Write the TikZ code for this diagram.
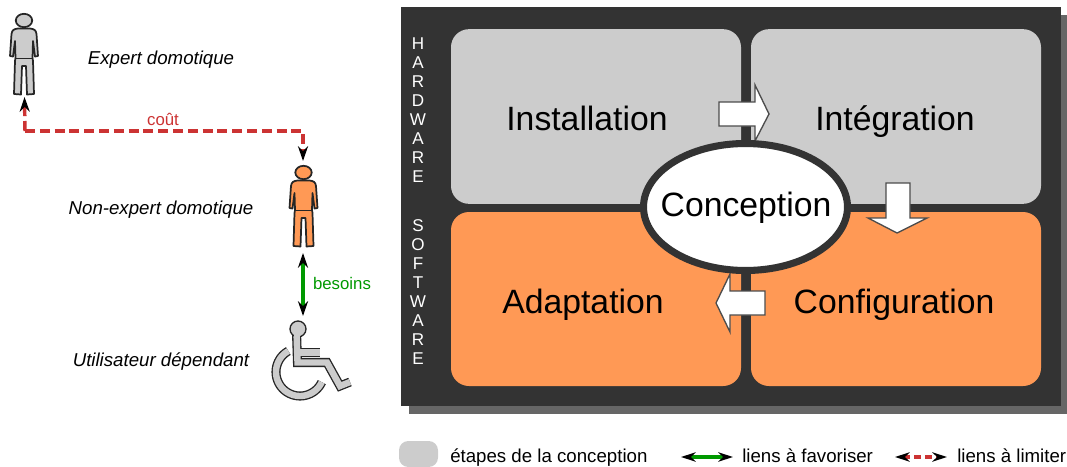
\documentclass[tikz,border=0pt]{standalone}
\usepackage{fontspec}
\setmainfont{Liberation Sans}
\usetikzlibrary{arrows.meta,shapes.geometric}
\definecolor{panel}{HTML}{333333}
\definecolor{shadowc}{HTML}{666666}
\definecolor{greyc}{HTML}{CCCCCC}
\definecolor{orangec}{HTML}{FF9955}
\definecolor{redc}{HTML}{CC3333}
\definecolor{greenc}{HTML}{009900}
\newcommand{\stepfont}{\fontsize{25.3}{30}\selectfont}
\newcommand{\labfont}{\fontsize{14}{17}\selectfont}
\newcommand{\linkfont}{\fontsize{12.6}{15}\selectfont}
\newcommand{\persondraw}[3]{%
  \begin{scope}[shift={(#1,#2)}]
    \draw[personline,fill=#3] (-6,14.5) .. controls (-10,15) and (-12,16) .. (-12.5,20)
      -- (-14,42) -- (-11,42.5) -- (-9,27) -- (-8.5,44) -- (-9,47) -- (-10,80) -- (-3,80.5)
      -- (-2,52) -- (2,52) -- (3,80.5) -- (10,80) -- (9,47) -- (8.5,44) -- (9,27) -- (11,42.5)
      -- (14,42) -- (12.5,20) .. controls (12,16) and (10,15) .. (6,14.5) -- cycle;
    \draw[personline] (-8.5,44.5) -- (8.5,44.5);
    \draw[personline,fill=#3] (0,6.5) ellipse[x radius=8.2,y radius=6.7];
  \end{scope}}
\tikzset{
  x=0.75pt,y=-0.75pt,
  personline/.style={draw=black!85,line width=1.3pt,line join=round},
  stepbox/.style={rounded corners=13.5pt,draw=none},
  steptext/.style={font=\stepfont,text=black,inner sep=0pt,anchor=base},
  labeltext/.style={font=\labfont\itshape,text=black,inner sep=0pt,anchor=base},
  legendtext/.style={font=\labfont,text=black,inner sep=0pt,anchor=base west},
  sidetext/.style={font=\fontsize{12.8}{14.2}\selectfont,text=white,align=center,inner sep=0pt},
  blockarrow/.style={fill=white,draw=black!70,line width=1pt,line join=miter},
  redlink/.style={draw=redc,line width=2.6pt,dash pattern=on 7.5pt off 3.6pt},
  greenlink/.style={draw=greenc,line width=2.6pt},
  tips/.style={{Stealth[length=11pt,width=7.5pt,black]}-{Stealth[length=11pt,width=7.5pt,black]}},
  tipend/.style={-{Stealth[length=11pt,width=7.5pt,black]}},
  smalltips/.style={{Stealth[length=11pt,width=7pt,black]}-{Stealth[length=11pt,width=7pt,black]}},
}
\begin{document}
\begin{tikzpicture}
\useasboundingbox (0,0) rectangle (1067,467);
% panel
\fill[shadowc] (409,15) rectangle (1067,414);
\fill[panel] (401,7) rectangle (1061,406);
\node[stepbox,fill=greyc,minimum width=217.5pt,minimum height=131pt,inner sep=0pt] (inst) at (596,116.5) {};
\node[stepbox,fill=greyc,minimum width=217.5pt,minimum height=131pt,inner sep=0pt] (integ) at (896,116.5) {};
\node[stepbox,fill=orangec,minimum width=217.5pt,minimum height=130.5pt,inner sep=0pt] (adapt) at (596,299) {};
\node[stepbox,fill=orangec,minimum width=217.5pt,minimum height=130.5pt,inner sep=0pt] (config) at (896,299) {};
\node[steptext] (instl) at (587,130.5) {Installation};
\node[steptext] (integl) at (895,130.5) {Intégration};
\node[steptext] (adaptl) at (583,313) {Adaptation};
\node[steptext] (configl) at (894,313) {Configuration};
% block arrows
\draw[blockarrow] (719,102) -- (755,102) -- (755,85) -- (769,114) -- (755,141) -- (755,126) -- (719,126) -- cycle;
\draw[blockarrow] (886,183) -- (910,183) -- (910,218) -- (927,218) -- (897,233) -- (868,218) -- (886,218) -- cycle;
\draw[blockarrow] (765,291) -- (730,291) -- (730,274) -- (716,303) -- (730,332) -- (730,315) -- (765,315) -- cycle;
% centre
\node[draw=panel,line width=5.3pt,fill=white,ellipse,minimum width=153pt,minimum height=95.25pt,inner sep=0pt] (conc) at (745.5,207) {};
\node[steptext] (concl) at (746,216.5) {Conception};
\node[sidetext] (hw) at (418,110) {H\\A\\R\\D\\W\\A\\R\\E};
\node[sidetext] (sw) at (418,292) {S\\O\\F\\T\\W\\A\\R\\E};
% persons
\persondraw{24}{14}{greyc}
\coordinate (expert) at (24.5,97);
\persondraw{303.5}{166}{orangec}
\coordinate (nonexpertTop) at (303,161);
\coordinate (nonexpertBot) at (303,253);
\coordinate (user) at (303,316);
\coordinate (bendA) at (25,131);
\coordinate (bendB) at (303,131);
\node[labeltext] (expl) at (161,64.5) {Expert domotique};
\node[labeltext] (nexpl) at (161,214.5) {Non-expert domotique};
\node[labeltext] (usrl) at (161,366.5) {Utilisateur dépendant};
% links
\draw[redlink,tipend] (bendA) -- (bendB) -- (nonexpertTop);
\draw[redlink,tipend] (bendA) -- (expert);
\draw[greenlink,tips] (nonexpertBot) -- (user);
\node[font=\linkfont,text=redc,inner sep=0pt,anchor=base] (cout) at (163,125) {coût};
\node[font=\linkfont,text=greenc,inner sep=0pt,anchor=base] (bes) at (342,289.5) {besoins};
% wheelchair
\foreach \col/\wid in {black!85/6.8pt,greyc/4.8pt}{
  \draw[draw=\col,line width=\wid,line join=miter] plot[domain=119:335,samples=50] ({300+24*cos(\x)},{372-24*sin(\x)});
  \draw[draw=\col,line width=\wid,line join=miter] (296.5,332) -- (297.5,362.5) -- (327,362.5) -- (340,386) -- (350,382);
  \draw[draw=\col,line width=\wid,line join=miter] (298,352.5) -- (320,352.5);
}
\fill[greyc,draw=black!85,line width=1pt] (298,329) circle[radius=8];
\fill[greyc] (293.5,331) rectangle (300,342);
% legend
\fill[greyc,rounded corners=7pt] (399,441) rectangle (438,467);
\node[legendtext] (leg1) at (450,462.5) {étapes de la conception};
\coordinate (g1) at (681,457); \coordinate (g2) at (733,457);
\draw[greenlink,smalltips] (g1) -- (g2);
\node[legendtext] (leg2) at (742,462.5) {liens à favoriser};
\coordinate (r1) at (895,457); \coordinate (r2) at (947,457);
\draw[redlink,smalltips,dash pattern=on 5pt off 3pt] (r1) -- (r2);
\node[legendtext] (leg3) at (957,462.5) {liens à limiter};
\end{tikzpicture}
\end{document}
